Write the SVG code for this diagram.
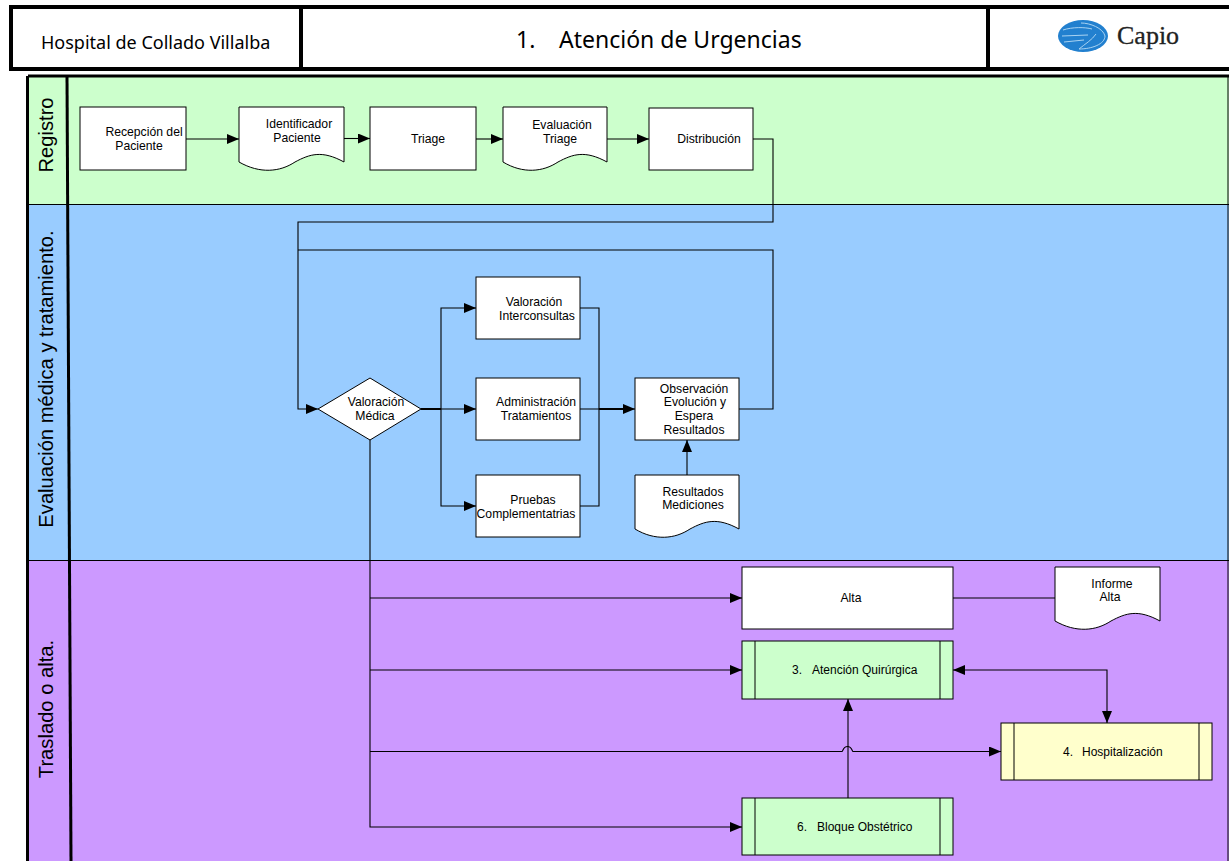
<svg xmlns="http://www.w3.org/2000/svg" width="1229" height="861" viewBox="0 0 1229 861">
<style>
.n{fill:#fff;stroke:#000;stroke-width:1}
.g{fill:#ccffcc;stroke:#000;stroke-width:1}
.y{fill:#ffffcc;stroke:#000;stroke-width:1}
.t{font-family:"Liberation Sans",Arial,sans-serif;font-size:12.2px;fill:#000;text-anchor:middle}
.s{font-family:"Liberation Sans",Arial,sans-serif;font-size:12px;fill:#000}
.l{font-family:"Liberation Sans",Arial,sans-serif;font-size:20.200px;fill:#000;text-anchor:middle}
.h{font-family:"Noto Sans","Open Sans",sans-serif;fill:#000}
.c{fill:none;stroke:#000;stroke-width:1.1}
.b{fill:none;stroke:#000;stroke-width:2}
.a{marker-end:url(#ar)}
.hand{fill:none;stroke:#a9d3f2;stroke-width:1}
</style>
<defs>
<marker id="ar" markerUnits="userSpaceOnUse" markerWidth="13" markerHeight="10" refX="12" refY="5" orient="auto"><path d="M0,0L12,5L0,10Z" fill="#000"/></marker>
<marker id="as" markerUnits="userSpaceOnUse" markerWidth="13" markerHeight="10" refX="12" refY="5" orient="auto-start-reverse"><path d="M0,0L12,5L0,10Z" fill="#000"/></marker>
</defs>
<rect width="1229" height="861" fill="#fff"/>
<g id="header">
<rect x="11" y="7" width="1222" height="62" fill="#fff" stroke="#000" stroke-width="4"/>
<path d="M301,7V69M988,7V69" stroke="#000" stroke-width="4" fill="none"/>
<text class="h" x="41" y="49" font-size="18">Hospital de Collado Villalba</text>
<text class="h" y="48" font-size="23"><tspan x="516">1.</tspan><tspan x="559">Atención de Urgencias</tspan></text>
<g id="logo">
<ellipse cx="1083" cy="36" rx="25" ry="16" fill="#2280cf"/>
<path class="hand" d="M1063,30C1072,27 1085,27 1092,29M1062,36L1088,35M1064,42L1084,40M1081,23C1090,23 1103,28 1105,36C1105,44 1092,49 1079,49C1085,44 1092,40 1096,34"/>
<text x="1117" y="44" font-family="Liberation Serif,serif" font-size="26" fill="#222" stroke="#222" stroke-width=".3">Capio</text>
</g>
</g>
<g id="lanes">
<rect x="28" y="76" width="1203" height="128" fill="#ccffcc"/>
<rect x="28" y="204" width="1203" height="356.500" fill="#99ccff"/>
<rect x="28" y="560.500" width="1203" height="302" fill="#cc99ff"/>
<path d="M28,204.500H1229M28,560.500H1229" stroke="#000" stroke-width="1"/>
<path d="M28,76H1229" stroke="#000" stroke-width="3"/>
<path d="M27.500,76V861" stroke="#000" stroke-width="3"/>
<path d="M1228,76V861" stroke="#000" stroke-width="1"/>
<path d="M67,76L71,861" stroke="#000" stroke-width="3" fill="none"/>
<text class="l" transform="translate(52.500,135) rotate(-90)">Registro</text>
<text class="l" transform="translate(52.500,379) rotate(-90)">Evaluación médica y tratamiento.</text>
<text class="l" transform="translate(52.500,709) rotate(-90)">Traslado o alta.</text>
</g>
<g id="connectors">
<path class="c a" d="M186,139H239"/>
<path class="c a" d="M344,138.500H370"/>
<path class="c a" d="M476,139H503"/>
<path class="c a" d="M607,139H649"/>
<path class="c a" d="M753,139H773V222H298V409H318"/>
<path class="c" d="M739,409H773V250H298"/>
<path class="c a" d="M421,409H476"/>
<path class="c a" d="M441,409V308H476"/>
<path class="c a" d="M441,409V506H476"/>
<path class="b" d="M421,409H441M599,409H625"/>
<path class="c" d="M580,308H599V506H580"/>
<path class="c a" d="M580,409H635"/>
<path class="c a" d="M687,475V440"/>
<path class="c a" d="M370,440V827H742"/>
<path class="c a" d="M370,598H742"/>
<path class="c a" d="M370,670H742"/>
<path class="c a" d="M370,751.500H842C843,751.500 843,746.500 847.500,746.500C852,746.500 852,751.500 853,751.500H1001"/>
<path class="c" d="M953,598H1055"/>
<path class="c" d="M953,670H1107V723" marker-start="url(#as)" marker-end="url(#ar)"/>
<path class="c a" d="M848,798V699"/>
</g>
<g id="recepcion"><rect class="n" x="80" y="107" width="106" height="63"/><text class="t" x="144" y="136">Recepción del</text><text class="t" x="139" y="150">Paciente</text></g>
<g id="identificador"><path class="n" d="M239,107H344V162C322,150 310,154 295,162C280,172 260,174 239,162Z"/><text class="t" x="299" y="128">Identificador</text><text class="t" x="297" y="142">Paciente</text></g>
<g id="triage"><rect class="n" x="370" y="107" width="106" height="63"/><text class="t" x="428" y="143">Triage</text></g>
<g id="evaluacion"><path class="n" d="M503,107H607V162C585,150 573,154 558,162C543,172 523,174 503,162Z"/><text class="t" x="562" y="129">Evaluación</text><text class="t" x="560" y="143">Triage</text></g>
<g id="distribucion"><rect class="n" x="649" y="108" width="104" height="62"/><text class="t" x="709" y="143">Distribución</text></g>
<g id="valoracion-medica"><path class="n" d="M370,378L421,409L370,440L318,409Z"/><text class="t" x="376" y="406">Valoración</text><text class="t" x="375" y="420">Médica</text></g>
<g id="interconsultas"><rect class="n" x="476" y="277" width="104" height="62"/><text class="t" x="534" y="306">Valoración</text><text class="t" x="537" y="320">Interconsultas</text></g>
<g id="administracion"><rect class="n" x="476" y="378" width="104" height="62"/><text class="t" x="536" y="406">Administración</text><text class="t" x="536" y="420">Tratamientos</text></g>
<g id="pruebas"><rect class="n" x="476" y="475" width="104" height="62"/><text class="t" x="533" y="504">Pruebas</text><text class="t" x="526" y="518">Complementatrias</text></g>
<g id="observacion"><rect class="n" x="635" y="378" width="104" height="62"/><text class="t" x="694" y="393">Observación</text><text class="t" x="695" y="406">Evolución y</text><text class="t" x="694" y="420">Espera</text><text class="t" x="694" y="434">Resultados</text></g>
<g id="resultados"><path class="n" d="M635,475H739V529C717,517 705,521 690,529C675,539 655,541 635,529Z"/><text class="t" x="693" y="496">Resultados</text><text class="t" x="693" y="509">Mediciones</text></g>
<g id="alta"><rect class="n" x="742" y="567" width="211" height="62"/><text class="t" x="851" y="602">Alta</text></g>
<g id="informe-alta"><path class="n" d="M1055,567H1160V621C1138,609 1126,613 1111,621C1096,631 1076,633 1055,621Z"/><text class="t" x="1112" y="588">Informe</text><text class="t" x="1110" y="601">Alta</text></g>
<g id="atencion-quirurgica"><rect class="g" x="742" y="641" width="211" height="58"/><path class="g" d="M755,641V699M940,641V699"/><text class="s" y="674"><tspan x="792">3.</tspan><tspan x="812">Atención Quirúrgica</tspan></text></g>
<g id="hospitalizacion"><rect class="y" x="1001" y="723" width="211" height="57"/><path class="y" d="M1014,723V780M1199,723V780"/><text class="s" y="756"><tspan x="1063">4.</tspan><tspan x="1082">Hospitalización</tspan></text></g>
<g id="bloque-obstetrico"><rect class="g" x="742" y="798" width="211" height="57"/><path class="g" d="M755,798V855M940,798V855"/><text class="s" y="831"><tspan x="797">6.</tspan><tspan x="817">Bloque Obstétrico</tspan></text></g>
</svg>
